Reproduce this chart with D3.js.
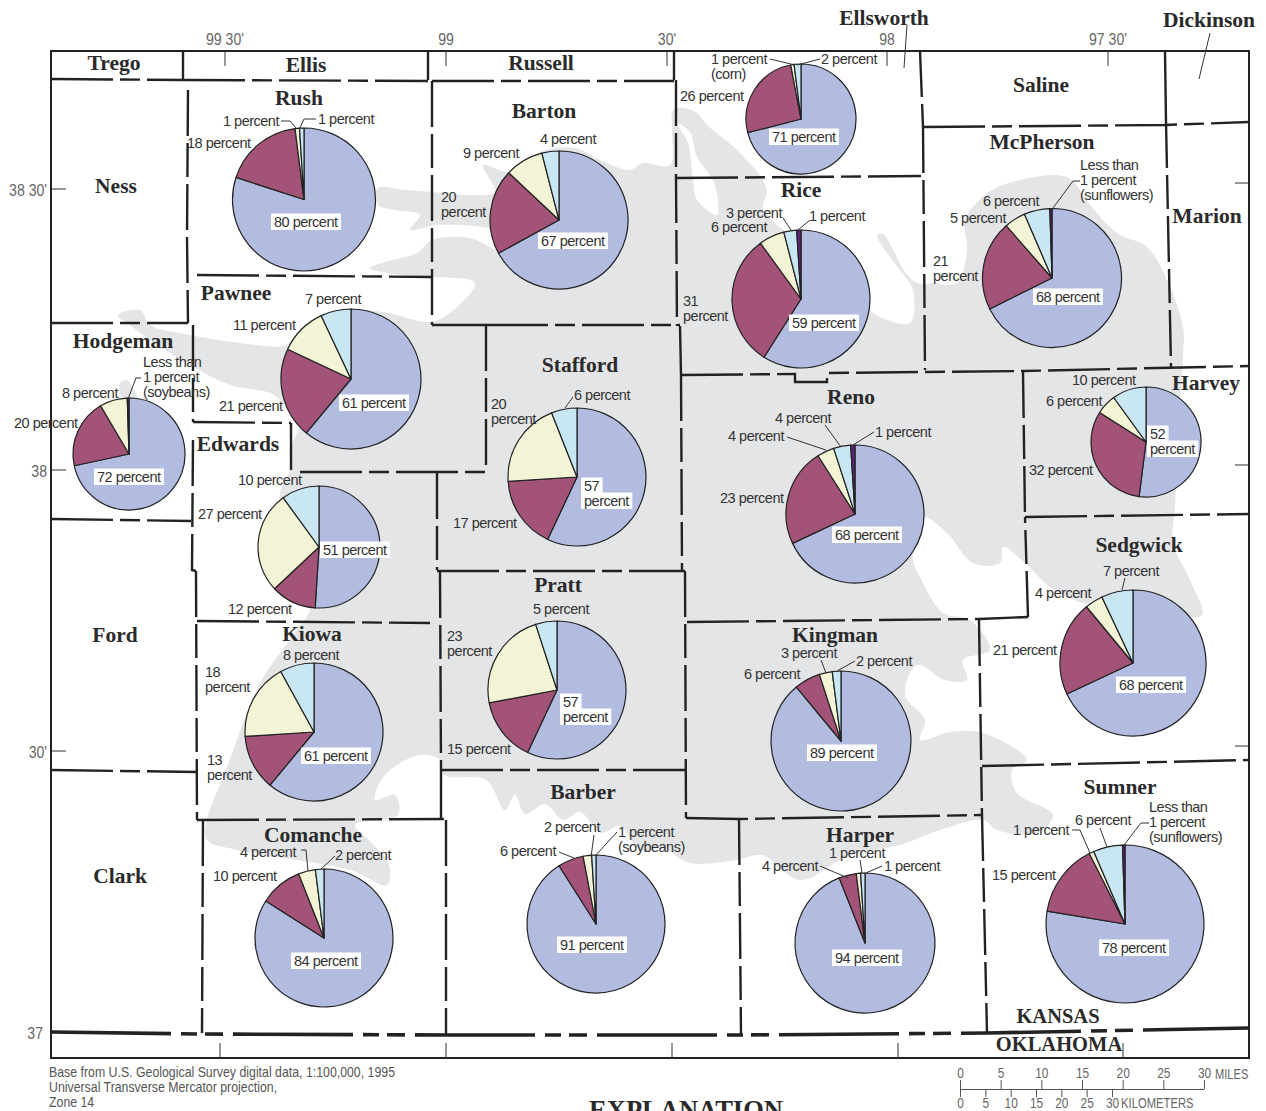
<!DOCTYPE html>
<html>
<head>
<meta charset="utf-8">
<script src="https://cdn.jsdelivr.net/npm/d3@7"></script>
<style>
html, body { margin: 0; padding: 0; background: #fff; overflow: hidden; }
svg { display: block; }
.county { font-family: "Liberation Serif", serif; font-weight: bold; font-size: 21.5px; fill: #2a2a2a; text-anchor: middle; }
.pct { font-family: "Liberation Sans", Arial, sans-serif; font-size: 14.5px; letter-spacing: -0.5px; fill: #333; }
.coord { font-family: "Liberation Sans", sans-serif; font-size: 16px; fill: #666; }
.note { font-family: "Liberation Sans", sans-serif; font-size: 14.5px; fill: #555; }
.border { fill: none; stroke: #222; stroke-width: 2.4; }
.leader { fill: none; stroke: #333; stroke-width: 1; }
.tick-mark { stroke: #333; stroke-width: 1; }
.slice { stroke: #222; stroke-width: 1.2; stroke-linejoin: round; }
</style>
</head>
<body>
<div id="map"></div>
<script>
const mapWidth = 1266;
const mapHeight = 1111;

// crop share of each county, percent. "Less than 1" is kept as 0.5
const counties = ["Rush", "Barton", "Ellsworth", "Rice", "McPherson", "Pawnee", "Hodgeman", "Edwards", "Stafford",
    "Reno", "Harvey", "Sedgwick", "Pratt", "Kiowa", "Kingman", "Comanche", "Barber", "Harper", "Sumner"];
const blueShare =   [80, 67, 71, 59, 68, 61, 72, 51, 57, 68, 52, 68, 57, 61, 89, 84, 91, 94, 78];
const maroonShare = [18, 20, 26, 31, 21, 21, 20, 12, 17, 23, 32, 21, 15, 13,  6, 10,  6,  4, 15];
const creamShare =  [ 1,  9,  1,  6,  5, 11,  8, 27, 20,  4,  6,  4, 23, 18,  3,  4,  2,  1,  1];
const paleShare =   [ 1,  4,  2,  3,  6,  7,  0, 10,  6,  4, 10,  7,  5,  8,  2,  2,  1,  1,  6];
const otherShare =  [ 0,  0,  0,  1, .5,  0, .5,  0,  0,  1,  0,  0,  0,  0,  0,  0,  0,  0, .5];
const sliceColors = ["#b2bce0", "#a25377", "#f3f3d5", "#c8e7f3", "#5a2577"];

// where each pie sits on the sheet [x, y, radius]
const piePlaces = {
    Rush: [304, 199.5, 71.5], Barton: [559, 220, 69], Ellsworth: [801, 119, 55], Rice: [801, 299, 69],
    McPherson: [1052, 278, 69.5], Pawnee: [351, 379, 70], Hodgeman: [129, 454, 56], Edwards: [319, 547, 61],
    Stafford: [577, 477, 69], Reno: [855, 514, 69], Harvey: [1146, 442, 55], Sedgwick: [1133, 663, 73],
    Pratt: [557, 690, 69], Kiowa: [314, 732, 69], Kingman: [841, 741, 70], Comanche: [324, 938, 69],
    Barber: [596, 924, 69], Harper: [865, 943, 70], Sumner: [1125, 924, 79]
};

// [text, x, baseline] and | breaks the line
const pieLabels = [
    ["1 percent", 223, 126], ["1 percent", 318, 124], ["18 percent", 187, 148],
    ["4 percent", 540, 144], ["9 percent", 463, 158], ["20|percent", 441, 202],
    ["1 percent|(corn)", 711, 64], ["2 percent", 821, 64], ["26 percent", 680, 101],
    ["3 percent", 726, 218], ["6 percent", 711, 232], ["1 percent", 809, 221], ["31|percent", 683, 306],
    ["Less than|1 percent|(sunflowers)", 1080, 170], ["6 percent", 983, 206], ["5 percent", 950, 223], ["21|percent", 933, 266],
    ["7 percent", 305, 304], ["11 percent", 233, 330], ["21 percent", 219, 411],
    ["Less than|1 percent|(soybeans)", 143, 367], ["8 percent", 62, 398], ["20 percent", 14, 428],
    ["10 percent", 238, 485], ["27 percent", 198, 519], ["12 percent", 228, 614],
    ["6 percent", 574, 400], ["20|percent", 491, 409], ["17 percent", 453, 528],
    ["4 percent", 775, 423], ["4 percent", 728, 441], ["1 percent", 875, 437], ["23 percent", 720, 503],
    ["10 percent", 1072, 385], ["6 percent", 1046, 406], ["32 percent", 1029, 475],
    ["7 percent", 1103, 576], ["4 percent", 1035, 598], ["21 percent", 993, 655],
    ["5 percent", 533, 614], ["23|percent", 447, 641], ["15 percent", 447, 754],
    ["8 percent", 283, 660], ["18|percent", 205, 677], ["13|percent", 207, 765],
    ["3 percent", 781, 658], ["2 percent", 856, 666], ["6 percent", 744, 679],
    ["4 percent", 240, 857], ["2 percent", 335, 860], ["10 percent", 213, 881],
    ["2 percent", 544, 832], ["1 percent|(soybeans)", 618, 837], ["6 percent", 500, 856],
    ["1 percent", 829, 858], ["1 percent", 884, 871], ["4 percent", 762, 871],
    ["Less than|1 percent|(sunflowers)", 1149, 812], ["6 percent", 1075, 825], ["1 percent", 1013, 835], ["15 percent", 992, 880]
];
// the labels on a white box inside the blue slice
const boxedLabels = [
    ["80 percent", 274, 227], ["67 percent", 541, 246], ["71 percent", 772, 142], ["59 percent", 792, 328],
    ["68 percent", 1036, 302], ["61 percent", 342, 408], ["72 percent", 97, 482], ["51 percent", 323, 555],
    ["57|percent", 584, 491], ["68 percent", 835, 540], ["52|percent", 1150, 439], ["68 percent", 1119, 690],
    ["57|percent", 563, 707], ["61 percent", 304, 761], ["89 percent", 810, 758], ["84 percent", 294, 966],
    ["91 percent", 560, 950], ["94 percent", 835, 963], ["78 percent", 1102, 953]
];

const leaders = [
    [[281, 121], [290, 121], [296, 128]], [[316, 119], [304, 119], [300, 128]],
    [[770, 59], [795, 65]], [[820, 59], [797, 65]],
    [[783, 218], [791, 230]], [[810, 220], [798, 230]],
    [[1080, 181], [1073, 181], [1053, 208]],
    [[141, 378], [136, 378], [128, 399]],
    [[573, 397], [565, 408]],
    [[825, 425], [841, 447]], [[787, 437], [826, 450]], [[874, 432], [853, 445]],
    [[1125, 578], [1122, 590]],
    [[821, 660], [826, 673]], [[855, 661], [837, 671]],
    [[301, 850], [306, 850], [308, 871]], [[335, 856], [321, 869]],
    [[594, 835], [591, 857]], [[617, 832], [596, 855]], [[559, 852], [574, 858]],
    [[820, 866], [848, 878]], [[860, 860], [862, 873]], [[882, 866], [866, 873]],
    [[1149, 823], [1141, 823], [1124, 845]], [[1100, 828], [1107, 847]], [[1072, 830], [1080, 830], [1090, 853]],
    [[907, 25], [904, 68]], [[1210, 33], [1199, 79]]
];

const countyNames = [
    ["Trego", 114, 70], ["Ellis", 306, 72], ["Russell", 541, 70], ["Ellsworth", 884, 25], ["Dickinson", 1209, 27],
    ["Rush", 299, 105], ["Barton", 544, 118], ["Saline", 1041, 92], ["McPherson", 1042, 149], ["Ness", 116, 193],
    ["Rice", 801, 197], ["Marion", 1207, 223], ["Pawnee", 236, 300], ["Hodgeman", 123, 348], ["Edwards", 238, 451],
    ["Stafford", 580, 372], ["Reno", 851, 404], ["Harvey", 1206, 390], ["Sedgwick", 1139, 552], ["Pratt", 558, 592],
    ["Ford", 115, 642], ["Kiowa", 312, 641], ["Kingman", 835, 642], ["Barber", 583, 799], ["Sumner", 1120, 794],
    ["Comanche", 313, 842], ["Harper", 860, 842], ["Clark", 120, 883]
];
const stateNames = [["KANSAS", 1058, 1023], ["OKLAHOMA", 1059, 1051]];

const countyLines = [
    {pts: [[51, 79], [183, 80]], dash: 1}, {pts: [[183, 80], [428, 81]], dash: 1}, {pts: [[432, 81], [674, 81]], dash: 1},
    {pts: [[183, 51], [183, 79]], dash: 0}, {pts: [[428, 51], [428, 80]], dash: 0}, {pts: [[674, 51], [674, 80]], dash: 0},
    {pts: [[676, 80], [676, 177]], dash: 2}, {pts: [[676, 177], [677, 326]], dash: 2},
    {pts: [[680, 326], [681, 375]], dash: 0}, {pts: [[681, 375], [682, 570]], dash: 2},
    {pts: [[685, 571], [686, 818]], dash: 2},
    {pts: [[686, 818], [739, 819], [982, 815]], dash: 1},
    {pts: [[188, 90], [187, 237]], dash: 2}, {pts: [[187, 237], [188, 323]], dash: 2},
    {pts: [[51, 323], [188, 323]], dash: 1}, {pts: [[197, 275], [432, 277]], dash: 1},
    {pts: [[432, 81], [432, 325]], dash: 2}, {pts: [[432, 325], [486, 325]], dash: 0}, {pts: [[486, 325], [680, 325]], dash: 1},
    {pts: [[193, 325], [193, 422]], dash: 2}, {pts: [[193, 422], [291, 423]], dash: 1}, {pts: [[291, 423], [291, 470]], dash: 0},
    {pts: [[300, 472], [486, 472]], dash: 1}, {pts: [[486, 325], [486, 472]], dash: 2},
    {pts: [[193, 440], [192, 570], [196, 571]], dash: 2}, {pts: [[196, 571], [197, 820]], dash: 2},
    {pts: [[51, 519], [191, 521]], dash: 1}, {pts: [[197, 621], [430, 623]], dash: 1},
    {pts: [[437, 473], [437, 570]], dash: 2}, {pts: [[437, 571], [685, 571]], dash: 1},
    {pts: [[440, 572], [441, 770]], dash: 2}, {pts: [[441, 770], [686, 770]], dash: 1},
    {pts: [[441, 770], [441, 819]], dash: 0}, {pts: [[197, 820], [444, 819]], dash: 1},
    {pts: [[51, 770], [197, 772]], dash: 1},
    {pts: [[203, 820], [202, 1033]], dash: 2}, {pts: [[446, 820], [446, 1034]], dash: 2},
    {pts: [[739, 819], [741, 1034]], dash: 2}, {pts: [[982, 815], [987, 1032]], dash: 2},
    {pts: [[979, 620], [982, 815]], dash: 2},
    {pts: [[687, 622], [979, 619], [1028, 617]], dash: 1}, {pts: [[1028, 617], [1025, 517]], dash: 2},
    {pts: [[1025, 517], [1249, 514]], dash: 1}, {pts: [[1023, 372], [1025, 517]], dash: 2},
    {pts: [[681, 375], [795, 374], [795, 382], [827, 382], [827, 373], [1023, 371], [1249, 366]], dash: 1},
    {pts: [[920, 51], [923, 127]], dash: 2}, {pts: [[923, 127], [925, 370]], dash: 2},
    {pts: [[923, 127], [1165, 125], [1249, 122]], dash: 1},
    {pts: [[676, 178], [921, 176]], dash: 1},
    {pts: [[1165, 51], [1166, 122]], dash: 0}, {pts: [[1166, 122], [1171, 367]], dash: 2},
    {pts: [[982, 766], [1249, 760]], dash: 1}
];
const stateLine = [[51, 1032], [202, 1034], [446, 1035], [741, 1035], [987, 1033], [1249, 1028]];

// gray outcrop area behind the pies
const grayArea = [
    [118, 315], [140, 310], [150, 325], [190, 335], [240, 343], [285, 345], [300, 330], [340, 312], [383, 312],
    [430, 322], [450, 313], [475, 283], [430, 277], [400, 275], [370, 268], [385, 262], [417, 253], [432, 240],
    [470, 238], [500, 250], [495, 232], [437, 225], [410, 230], [420, 215], [395, 210], [378, 205], [378, 188],
    [405, 190], [432, 192], [470, 195], [495, 192], [483, 165], [510, 172], [540, 152], [575, 148], [600, 160],
    [630, 170], [643, 163], [670, 165], [672, 130], [673, 110], [683, 108], [697, 113], [707, 125], [737, 150],
    [763, 180], [767, 193], [763, 207], [777, 225], [800, 240], [860, 285], [870, 310], [880, 317], [910, 323],
    [913, 290], [900, 270], [885, 250], [877, 235], [883, 234], [893, 250], [905, 272], [917, 283], [933, 283],
    [957, 283], [967, 250], [965, 220], [985, 195], [1009, 183], [1067, 177], [1090, 205], [1117, 233], [1147, 247],
    [1167, 280], [1183, 327], [1183, 357], [1178, 430], [1175, 507], [1173, 543], [1190, 580], [1202, 615],
    [1167, 613], [1083, 603], [1050, 587], [1027, 565], [1003, 547], [1000, 563], [973, 563], [947, 533], [923, 517],
    [913, 560], [920, 577], [943, 613], [970, 620], [990, 650], [963, 660], [967, 680], [945, 680], [917, 665],
    [905, 695], [925, 720], [920, 740], [950, 732], [983, 733], [1027, 760], [1012, 770], [1017, 793], [1053, 815],
    [1037, 833], [997, 830], [983, 820], [940, 830], [900, 845], [850, 855], [800, 880], [762, 855], [736, 860],
    [690, 863], [662, 848], [640, 850], [620, 826], [601, 833], [580, 812], [563, 820], [545, 804], [525, 814],
    [515, 795], [505, 810], [486, 780], [444, 775], [440, 760], [420, 755], [385, 775], [375, 800], [395, 795],
    [398, 815], [355, 825], [372, 843], [389, 865], [387, 885], [350, 870], [237, 850], [207, 840], [207, 820],
    [226, 770], [260, 683], [297, 630], [310, 607], [285, 560], [280, 493], [290, 470], [290, 450], [300, 420],
    [280, 400], [270, 393], [230, 385], [190, 365], [150, 340], [130, 325]
];
const grayPatches = [[[120, 383], [127, 380], [137, 400], [122, 398]]];
const whiteCuts = [[[677, 123], [688, 143], [693, 180], [697, 200], [717, 215], [718, 200], [713, 180], [697, 157], [690, 132]]];

// graticule
const topTicks = [[225, "99 30'"], [446, "99"], [667, "30'"], [887, "98"], [1108, "97 30'"]];
const bottomTicks = [220, 446, 672, 898, 1123];
const leftTicks = [[189, "38 30'"], [470, "38"], [751, "30'"]];
const rightTicks = [183, 465, 746];
const noteLines = ["Base from U.S. Geological Survey digital data, 1:100,000, 1995", "Universal Transverse Mercator projection,", "Zone 14"];
const milesTicks = [0, 5, 10, 15, 20, 25, 30];
const kmTicks = [0, 5, 10, 15, 20, 25, 30];

const dashStyles = ["none", "62 7 20 7", "46 7 34 7"];

const svg = d3.select("#map").append("svg")
    .attr("width", mapWidth)
    .attr("height", mapHeight);

const pathLine = d3.line();
const areaLine = d3.line().curve(d3.curveCatmullRomClosed.alpha(0.5));

// no narrow font is installed, so squeeze the text to the width on the sheet
function condense(selection, factor) {
    selection.each(function() {
        d3.select(this)
            .attr("textLength", this.getComputedTextLength() * factor)
            .attr("lengthAdjust", "spacingAndGlyphs");
    });
}

// base map
svg.append("path").attr("d", areaLine(grayArea)).attr("fill", "#e4e5e7");
svg.selectAll(".patch").data(grayPatches).enter().append("path")
    .attr("class", "patch").attr("d", areaLine).attr("fill", "#e4e5e7");
svg.selectAll(".cut").data(whiteCuts).enter().append("path")
    .attr("class", "cut").attr("d", areaLine).attr("fill", "#fff");

svg.selectAll(".county-line").data(countyLines).enter().append("path")
    .attr("class", "border county-line")
    .attr("d", d => pathLine(d.pts))
    .attr("stroke-dasharray", d => dashStyles[d.dash]);

svg.append("path").attr("class", "border")
    .attr("d", pathLine(stateLine))
    .style("stroke-width", 3.6)
    .attr("stroke-dasharray", "120 10 16 8 18 10");

svg.append("rect").attr("x", 51).attr("y", 51).attr("width", 1198).attr("height", 1007)
    .attr("fill", "none").attr("stroke", "#222").attr("stroke-width", 2);

// ticks round the frame
topTicks.forEach(d => {
    svg.append("line").attr("class", "tick-mark").attr("x1", d[0]).attr("x2", d[0]).attr("y1", 51).attr("y2", 66);
    svg.append("text").attr("class", "coord").attr("x", d[0]).attr("y", 45).attr("text-anchor", "middle").text(d[1]);
});
bottomTicks.forEach(x => {
    svg.append("line").attr("class", "tick-mark").attr("x1", x).attr("x2", x).attr("y1", 1043).attr("y2", 1058);
});
leftTicks.forEach(d => {
    svg.append("line").attr("class", "tick-mark").attr("x1", 51).attr("x2", 66).attr("y1", d[0]).attr("y2", d[0]);
    svg.append("text").attr("class", "coord").attr("x", 47).attr("y", d[0] + 7).attr("text-anchor", "end").text(d[1]);
});
svg.append("text").attr("class", "coord").attr("x", 43).attr("y", 1039).attr("text-anchor", "end").text("37");
rightTicks.forEach(y => {
    svg.append("line").attr("class", "tick-mark").attr("x1", 1235).attr("x2", 1249).attr("y1", y).attr("y2", y);
});
svg.selectAll(".coord").call(condense, 0.88);

// pies
const pie = d3.pie().sort(null).startAngle(0).endAngle(2 * Math.PI);
const arc = d3.arc().innerRadius(0);

counties.forEach((name, i) => {
    const place = piePlaces[name];
    const shares = [blueShare[i], maroonShare[i], creamShare[i], paleShare[i], otherShare[i]];
    const g = svg.append("g").attr("transform", `translate(${place[0]},${place[1]})`);
    g.selectAll(".slice")
        .data(pie(shares).map((s, k) => ({...s, color: sliceColors[k]})).filter(s => s.value > 0))
        .enter()
        .append("path")
        .attr("class", "slice")
        .attr("d", d => arc.outerRadius(place[2])(d))
        .attr("fill", d => d.color);
});

svg.selectAll(".leader").data(leaders).enter().append("path")
    .attr("class", "leader").attr("d", pathLine);

// text labels
function addLabel(d, boxed) {
    const parts = d[0].split("|");
    const g = svg.append("g");
    const rows = parts.map((t, k) => g.append("text")
        .attr("class", "pct")
        .attr("x", d[1])
        .attr("y", d[2] + k * 15)
        .text(t));
    if (boxed) {
        rows.forEach(t => {
            const b = t.node().getBBox();
            g.insert("rect", "text")
                .attr("x", b.x - 3).attr("y", b.y - 0.5)
                .attr("width", b.width + 6).attr("height", b.height + 0.5)
                .attr("fill", "#fff");
        });
    }
}
pieLabels.forEach(d => addLabel(d, false));
boxedLabels.forEach(d => addLabel(d, true));

svg.selectAll(".county").data(countyNames).enter().append("text")
    .attr("class", "county")
    .attr("x", d => d[1])
    .attr("y", d => d[2])
    .text(d => d[0]);

svg.selectAll(".state").data(stateNames).enter().append("text")
    .attr("class", "county state")
    .style("font-size", "20.5px")
    .attr("x", d => d[1])
    .attr("y", d => d[2])
    .text(d => d[0]);

svg.append("text").attr("class", "county")
    .style("font-size", "26.5px")
    .attr("x", 686)
    .attr("y", 1119)
    .text("EXPLANATION");

svg.selectAll(".note").data(noteLines).enter().append("text")
    .attr("class", "note")
    .attr("x", 49)
    .attr("y", (d, i) => 1077 + i * 15)
    .text(d => d)
    .call(condense, 0.85);

// bar scale
const milesScale = d3.scaleLinear().domain([0, 30]).range([960, 1204]);
const kmScale = d3.scaleLinear().domain([0, 30]).range([960, 1112]);

const milesAxis = svg.append("g").attr("transform", "translate(0,1089)")
    .call(d3.axisTop(milesScale).tickValues(milesTicks).tickSize(9).tickPadding(2).tickSizeOuter(0));
const kmAxis = svg.append("g").attr("transform", "translate(0,1089)")
    .call(d3.axisBottom(kmScale).tickValues(kmTicks).tickSize(8).tickPadding(1).tickSizeOuter(0));
[milesAxis, kmAxis].forEach(a => {
    a.attr("font-family", null).attr("font-size", null);
    a.selectAll("text").attr("class", "coord scale-text").style("font-size", "14.5px");
    a.selectAll("path, line").attr("stroke", "#555");
});
svg.selectAll(".scale-text").call(condense, 0.82);
svg.append("text").attr("class", "coord").style("font-size", "15px").attr("x", 1215).attr("y", 1079).text("MILES").call(condense, 0.74);
svg.append("text").attr("class", "coord").style("font-size", "15px").attr("x", 1121).attr("y", 1108).text("KILOMETERS").call(condense, 0.75);
</script>
</body>
</html>
